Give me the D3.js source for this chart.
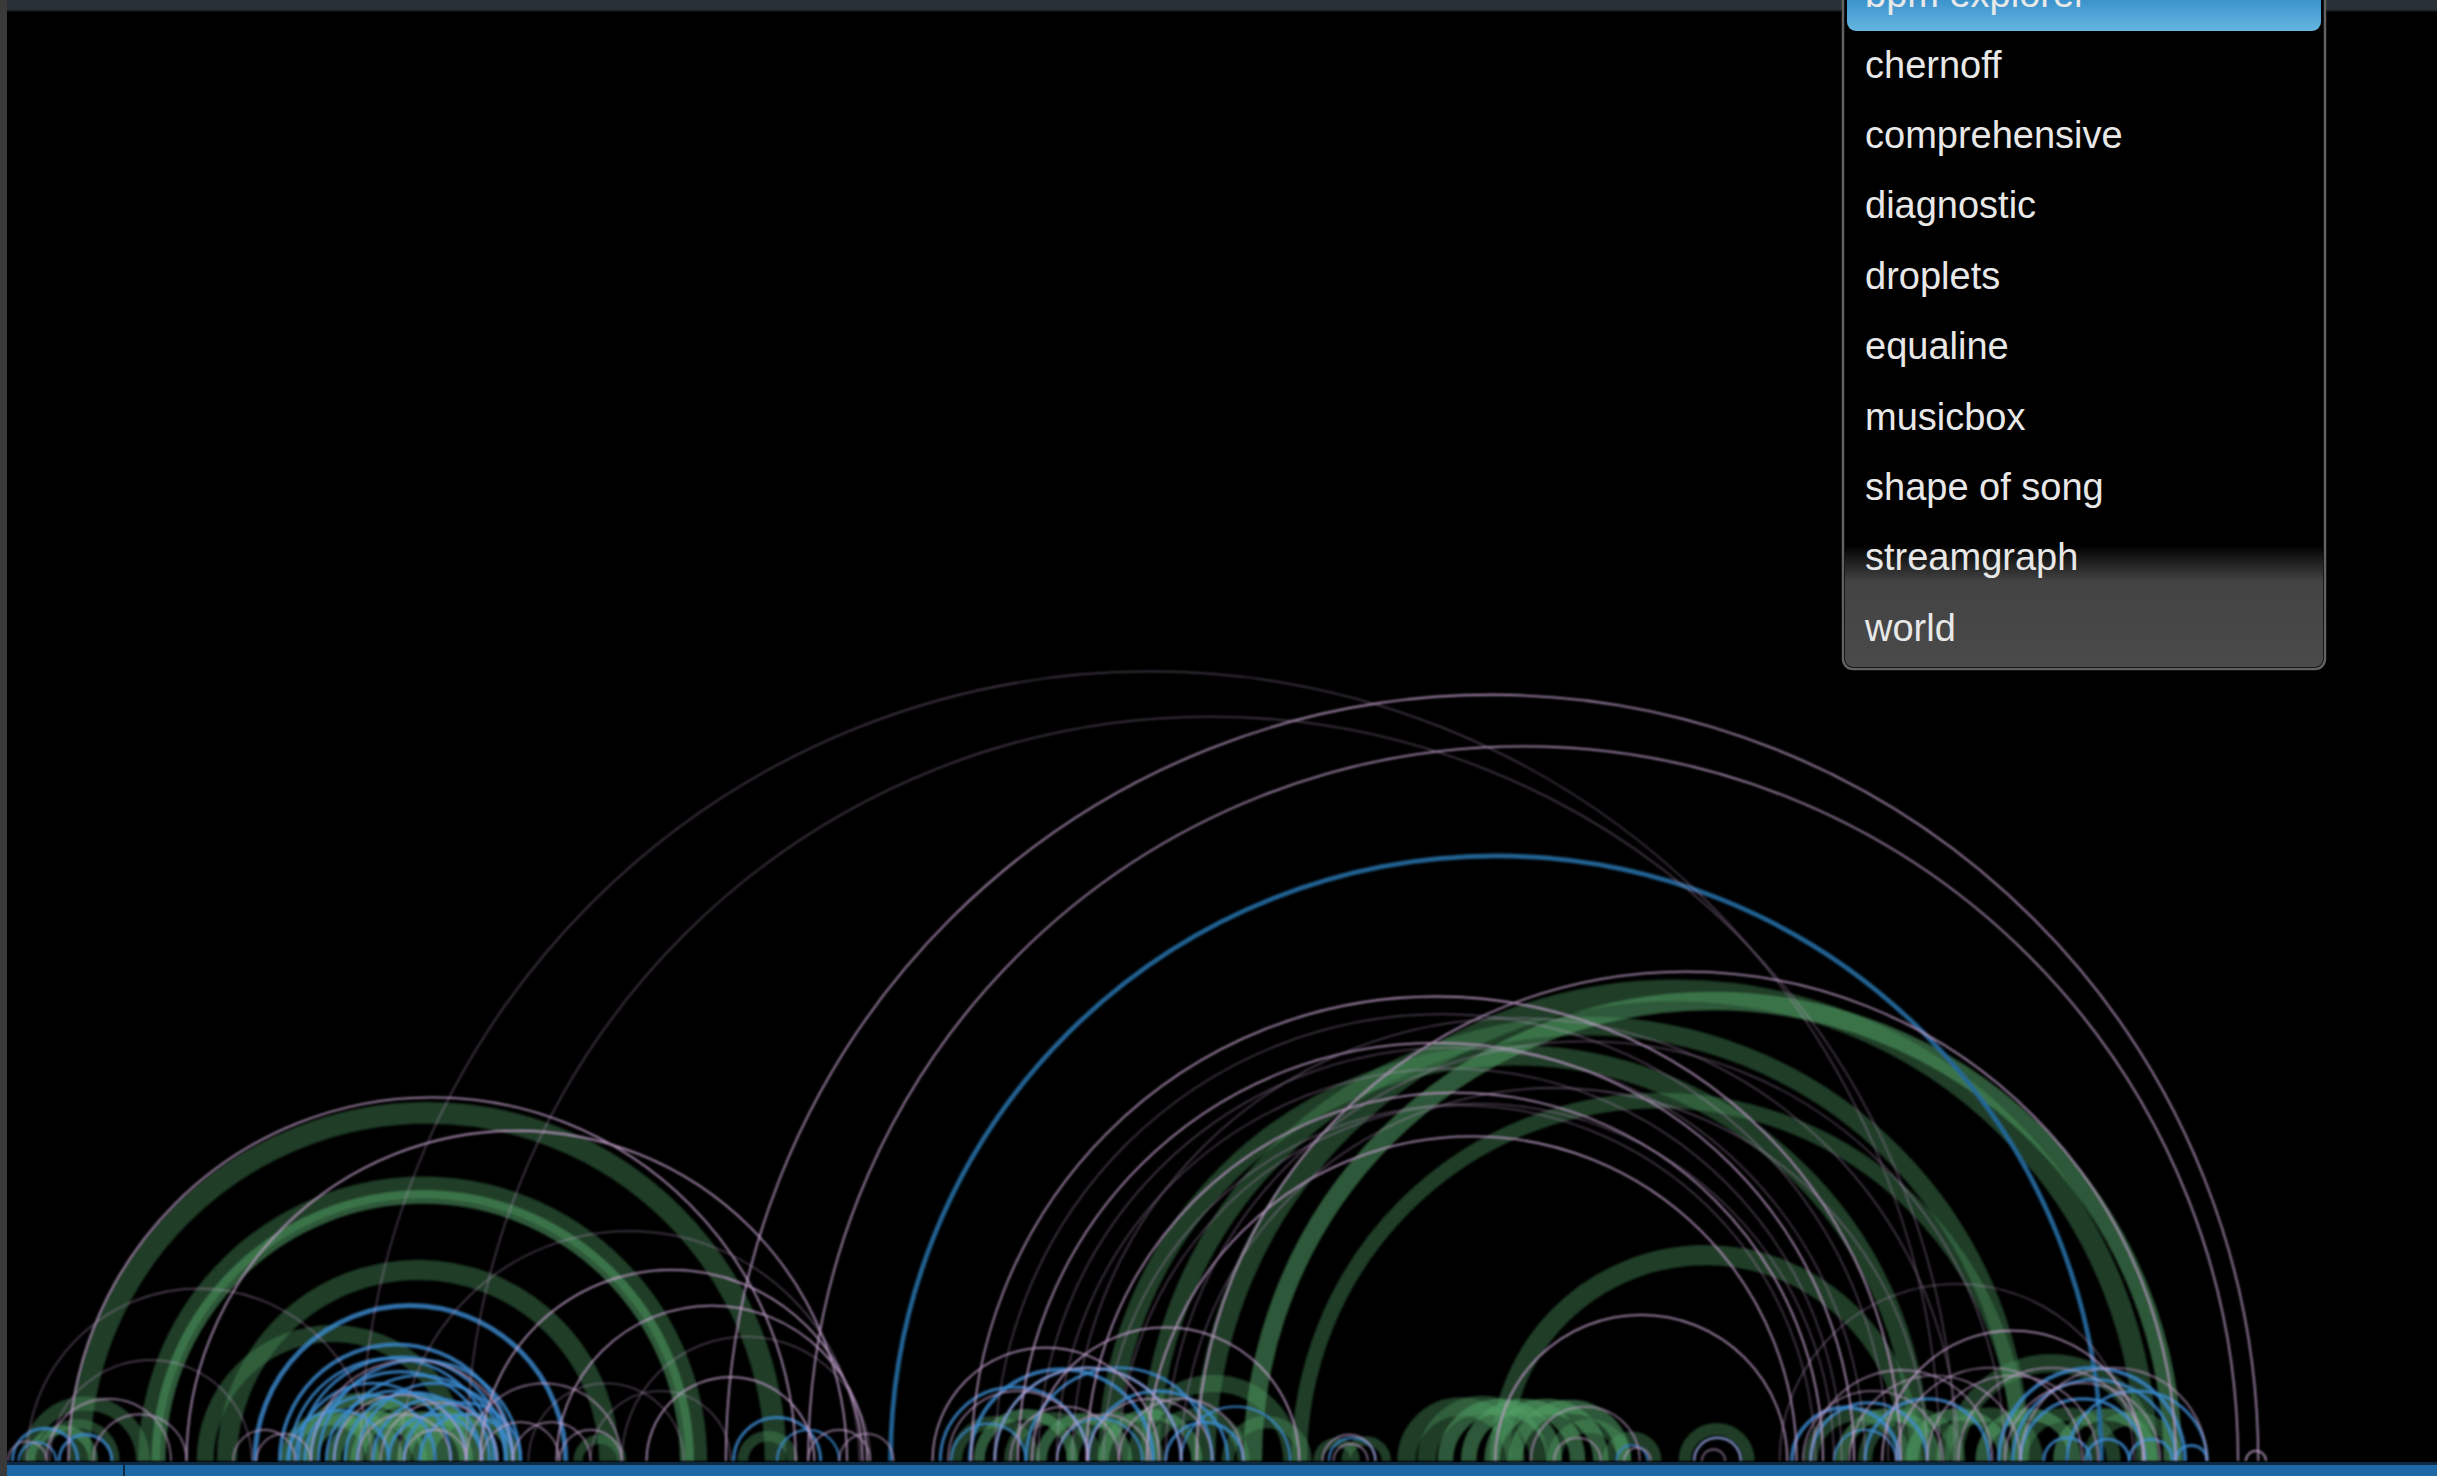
<!DOCTYPE html>
<html><head><meta charset="utf-8">
<script src="https://cdn.jsdelivr.net/npm/d3@7"></script>
<style>html,body{margin:0;padding:0;background:#000;overflow:hidden}</style>
</head><body>
<script>
// ---- data (positions along the song, repeat weight) ----
const greenDark = [
 [51,499,14],[96,448,14],[146,392,13],[132,296,11],[18,92,9],[26,74,6],
 [713,1235,13],[740,1300,12],[775,1381,14],[836,1300,10],[965,1230,13],[731,831,11],[1257,1383,12],
 [905,975,12],[918,990,12],[1000,1045,9],[1035,1065,8],[1084,1125,8],[848,872,6],[866,892,6],
 [1165,1225,9],[1200,1260,9],[1250,1310,9],[1300,1360,9],[1345,1400,9],
 [615,665,8],[650,705,8],[690,745,8],[740,800,8],[790,840,8],[372,400,6],[478,510,7]
];
const greenLight = [
 [102,442,9],[806,1398,12],
 [930,1000,10],[945,1015,10],[960,1030,10],[975,1045,9],
 [185,240,9],[200,255,9],[215,270,9],[230,285,9],[245,300,9],[260,315,9],[275,330,8],[195,275,8],[225,305,8],
 [1185,1245,8],[1230,1290,8],[1275,1335,8],[1325,1385,8],
 [630,690,7],[670,725,7],[710,770,7],[20,60,6]
];
const blueMain = [[573,1352,3]];
const blueArcs = [
 [164,364,3.2],
 [180,330,2.5],[186,318,2],[192,326,2],[200,315,2],[205,335,2],[210,300,2],[215,325,2],[222,310,2],[230,330,2],
 [190,290,2],[240,320,2],[250,310,2],[185,250,2],[270,330,2],[196,280,2],[260,335,2],
 [8,50,2],[38,72,2],[12,36,1.5],[472,528,2],[500,540,1.5],
 [624,742,2.5],[605,700,2],[640,760,2],[660,780,2],[700,790,2],[612,660,1.5],[680,735,1.5],[750,800,2],[760,830,1.5],
 [855,885,1.5],[1040,1060,1.5],[1090,1120,1.5],
 [1153,1222,2.5],[1165,1240,2],[1286,1406,2.5],[1295,1400,2],[1300,1380,2],[1200,1280,2],
 [1315,1345,2],[1342,1370,2],[1370,1398,2],[1400,1420,2],[1180,1220,1.5],[1330,1420,2]
];
const purpleBright = [
 [467,1453],[520,1440],[44,512],[120,545],[625,1223],[699,1173],[770,1400],[655,1193],[738,1156],
 [309,555],[358,558],[416,524],[600,746],[664,836],[962,1150],[1211,1379],[1445,1458]
];
const purpleFaint = [
 [232,1248],[300,1258],[640,1215],[668,1200],[680,1185],[710,1168],[720,1180],[690,1260],[750,1290],[760,1240],
 [17,239],[32,162],[257,553],[400,560],[380,470],[340,440],[1145,1373]
];
const purpleSmall = [
 [200,330],[215,300],[230,290],[245,320],[260,300],[300,400],[310,360],[330,380],[360,400],[540,575],[520,560],
 [150,190],[165,200],[5,30],[30,110],[60,120],[610,700],[640,760],[700,780],[720,800],[650,720],[680,740],
 [985,1055],[1000,1030],[851,885],[858,880],[1045,1062],[1090,1120],[1095,1110],
 [1165,1282],[1190,1300],[1220,1340],[1240,1350],[1260,1380],[1290,1390],[1160,1250],[1300,1420]
];
const menuItems = ["bpm explorer","chernoff","comprehensive","diagnostic","droplets","equaline","musicbox","shape of song","streamgraph","world"];

// ---- drawing ----
const W = 2437, H = 1476, baseY = 1461;
const x = d3.scaleLinear().domain([0,1568]).range([0,W]);
const wScale = d3.scaleLinear().domain([0,100]).range([0,155.4]);

const svg = d3.select("body").append("svg").attr("width",W).attr("height",H);
const defs = svg.append("defs");
const gb = defs.append("linearGradient").attr("id","gBlue").attr("x1",0).attr("y1",0).attr("x2",0).attr("y2",1);
gb.append("stop").attr("offset","0").attr("stop-color","#1e6aa8");
gb.append("stop").attr("offset","0.55").attr("stop-color","#3a92cc");
gb.append("stop").attr("offset","1").attr("stop-color","#66b6e0");
const gg = defs.append("linearGradient").attr("id","gGrey").attr("x1",0).attr("y1",0).attr("x2",0).attr("y2",1);
gg.append("stop").attr("offset","0").attr("stop-color","#000");
gg.append("stop").attr("offset","0.3").attr("stop-color","#434343");
gg.append("stop").attr("offset","1").attr("stop-color","#4a4a4a");
defs.append("filter").attr("id","soft").append("feGaussianBlur").attr("stdDeviation",0.8);

svg.append("rect").attr("width",W).attr("height",H).attr("fill","#000");

function arcPath(d){
  const x1 = x(d[0]), x2 = x(d[1]), r = (x2-x1)/2;
  return `M${x1},${baseY}A${r},${r} 0 0 1 ${x2},${baseY}`;
}
const arcs = svg.append("g").attr("filter","url(#soft)");
function layer(data, color, opacity, width){
  arcs.append("g").selectAll("path").data(data).join("path")
    .attr("d", arcPath).attr("fill","none").attr("stroke", color)
    .attr("stroke-opacity", opacity)
    .attr("stroke-width", d => d.length > 2 ? wScale(d[2]) : width);
}
layer(greenDark, "#468a58", 0.44);
layer(greenLight, "#52a066", 0.55);
layer(blueMain, "#24679b", 0.95);
layer(blueArcs, "#3b8cd2", 0.8);
layer(purpleFaint, "#c4a2cf", 0.45, 1.3);
layer(purpleSmall, "#c4a2cf", 0.7, 1.6);
layer(purpleBright, "#c4a2cf", 0.85, 1.8);

// frame
svg.append("rect").attr("x",0).attr("y",0).attr("width",W).attr("height",11).attr("fill","#2a3038");
svg.append("rect").attr("x",0).attr("y",10).attr("width",W).attr("height",1.5).attr("fill","#1a1e22");
svg.append("rect").attr("x",0).attr("y",0).attr("width",7).attr("height",H).attr("fill","#3a3a3a");
svg.append("rect").attr("x",7).attr("y",baseY+1).attr("width",W-7).attr("height",3).attr("fill","#0c2a44");
svg.append("rect").attr("x",7).attr("y",baseY+4).attr("width",W-7).attr("height",H-baseY-4).attr("fill","#1d69a6");
svg.append("rect").attr("x",123).attr("y",baseY+2).attr("width",2).attr("height",H-baseY).attr("fill","#0c2a44");

// dropdown menu
const menu = svg.append("g");
const mx = 1843, mw = 482, rowH = 70.4, base0 = 7.1;
menu.append("rect").attr("x",mx).attr("y",-40).attr("width",mw).attr("height",709).attr("rx",10)
  .attr("fill","#000").attr("stroke","#616161").attr("stroke-width",2.5);
menu.append("rect").attr("x",mx+2).attr("y",545).attr("width",mw-4).attr("height",122).attr("rx",8)
  .attr("fill","url(#gGrey)");
menu.append("rect").attr("x",mx+4).attr("y",-40).attr("width",mw-8).attr("height",71).attr("rx",9)
  .attr("fill","url(#gBlue)");
menu.selectAll("text").data(menuItems).join("text")
  .attr("x", mx+22).attr("y",(d,i)=> base0 + i*rowH)
  .attr("font-family","'Liberation Sans', Arial, Helvetica, sans-serif").attr("font-size",38)
  .attr("fill","#e8e8e8").text(d=>d);
</script>
</body></html>
